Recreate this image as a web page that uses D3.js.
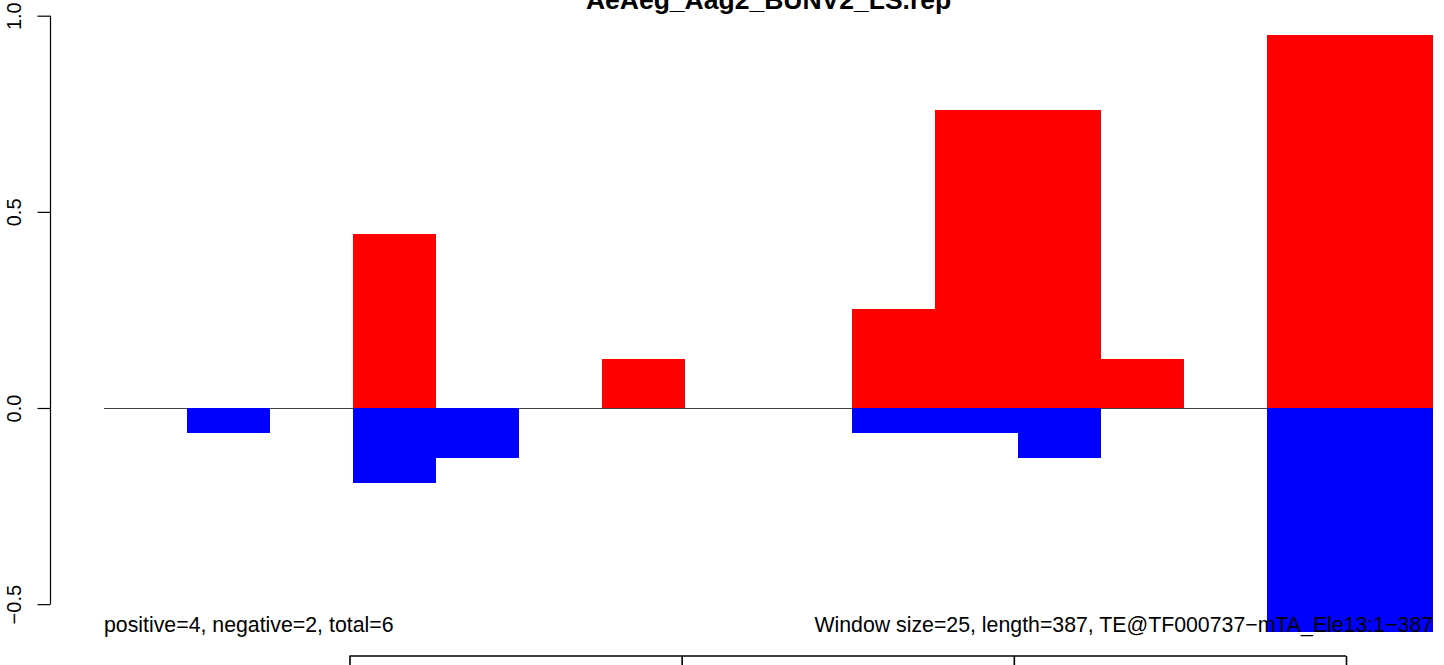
<!DOCTYPE html>
<html>
<head>
<meta charset="utf-8">
<script src="https://cdn.jsdelivr.net/npm/d3@7"></script>
<style>
  html, body { margin: 0; padding: 0; background: #fff; }
  svg { display: block; }
  text { font-family: "Liberation Sans", Arial, Helvetica, sans-serif; fill: #000; }
</style>
</head>
<body>
<svg id="chart" width="1444" height="665"></svg>
<script>
// ---- data ----
const title = "AeAeg_Aag2_BUNV2_LS.rep";
const windows = d3.range(16);                 // 16 windows of 25 nt
const positive = [0, 0, 0, 0.4435, 0, 0, 0.125, 0, 0, 0.252, 0.7596, 0.7596, 0.125, 0, 0.9508, 0.9508];
const negative = [0, -0.0637, 0, -0.191, -0.1275, 0, 0, 0, 0, -0.0637, -0.0637, -0.1275, 0, 0, -0.570, -0.570];
const yTicks = [-0.5, 0.0, 0.5, 1.0];
const bottomTicks = [100, 200, 300, 400];
const leftNote = "positive=4, negative=2, total=6";
const rightNote = "Window size=25, length=387, TE@TF000737\u2212mTA_Ele13:1\u2212387";

// ---- layout ----
const svg = d3.select("#chart");
const x = d3.scaleLinear().domain([0, windows.length]).range([104, 1433.1]);
const y = d3.scaleLinear().domain([-0.5, 1.0]).range([604.15, 15.7]);
const xb = d3.scaleLinear().domain([100, 400]).range([349.5, 1346]);

// zero line
svg.append("line")
  .attr("x1", x(0)).attr("x2", x(windows.length))
  .attr("y1", y(0) + 0.5).attr("y2", y(0) + 0.5)
  .attr("stroke", "#444").attr("stroke-width", 1);

// bars
const g = svg.append("g").attr("shape-rendering", "crispEdges");
g.selectAll("rect.pos").data(windows.filter(i => positive[i] !== 0)).join("rect")
  .attr("class", "pos")
  .attr("x", i => x(i)).attr("width", i => x(i + 1) - x(i))
  .attr("y", i => y(positive[i])).attr("height", i => y(0) - y(positive[i]))
  .attr("fill", "#ff0000");
g.selectAll("rect.neg").data(windows.filter(i => negative[i] !== 0)).join("rect")
  .attr("class", "neg")
  .attr("x", i => x(i)).attr("width", i => x(i + 1) - x(i))
  .attr("y", y(0)).attr("height", i => y(negative[i]) - y(0))
  .attr("fill", "#0000ff");

// y axis
const yAxis = d3.axisLeft(y).tickValues(yTicks).tickFormat(d3.format(".1f"))
  .tickSize(13).tickPadding(0);
const ya = svg.append("g").attr("transform", "translate(50.5,0)").call(yAxis);
ya.select(".domain").attr("d", `M0,${y(-0.5)}V${y(1.0)}`).attr("stroke", "#000").attr("stroke-width", 1.2);
ya.selectAll(".tick line").attr("stroke", "#000").attr("stroke-width", 1.2);
ya.selectAll(".tick text")
  .attr("x", 0).attr("dy", null)
  .attr("transform", "translate(-29.5,0) rotate(-90)")
  .attr("text-anchor", "middle")
  .style("font-size", "20px")
  .style("font-family", "'Liberation Sans', Arial, Helvetica, sans-serif");

// bottom axis (its labels lie below the visible window in the reference, so none are drawn)
const xAxis = d3.axisBottom(xb).tickValues(bottomTicks).tickSize(13).tickFormat(() => "");
const xa = svg.append("g").attr("transform", "translate(0,656)").call(xAxis);
xa.select(".domain").attr("d", `M${xb(100)},0H${xb(400)}`).attr("stroke", "#000").attr("stroke-width", 1.6);
xa.selectAll(".tick line").attr("stroke", "#000").attr("stroke-width", 1.6);
xa.selectAll(".tick text").remove();

// title
svg.append("text").attr("x", (x(0) + x(windows.length)) / 2).attr("y", 9)
  .attr("text-anchor", "middle").style("font-weight", "bold").style("font-size", "26.5px")
  .text(title);

// notes
svg.append("text").attr("x", x(0)).attr("y", 632)
  .style("font-size", "21.3px").text(leftNote);
svg.append("text").attr("x", x(windows.length)).attr("y", 632)
  .attr("text-anchor", "end").style("font-size", "21.3px").text(rightNote);
</script>
</body>
</html>
